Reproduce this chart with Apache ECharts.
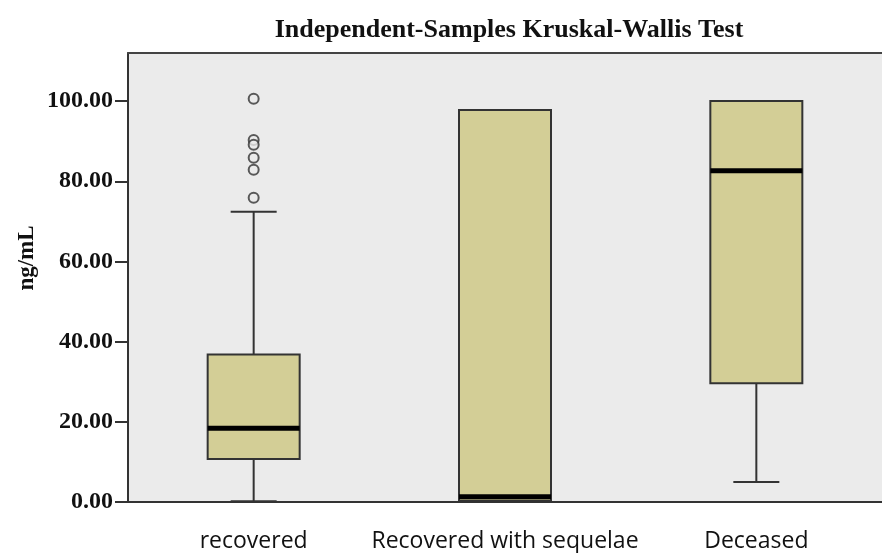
<!DOCTYPE html>
<html>
<head>
<meta charset="utf-8">
<script src="https://cdn.jsdelivr.net/npm/echarts@6/dist/echarts.min.js"></script>
<style>html,body{margin:0;padding:0;background:#fff}#c{width:882px;height:553px}</style>
</head>
<body>
<div id="c"></div>
<script>
const categories = ['recovered', 'Recovered with sequelae', 'Deceased'];
// [min, Q1, median, Q3, max]
const recoveredBox = [0.2, 10.7, 18.4, 36.8, 72.4];
const sequelaeBox = [0.3, 0.3, 1.3, 97.8, 97.8];
const deceasedBox = [5.0, 29.6, 82.6, 100.0, 100.0];
const recoveredOutliers = [100.6, 90.3, 89.1, 85.9, 82.9, 75.9];
const yTicks = [0, 20, 40, 60, 80, 100];

const boxes = [recoveredBox, sequelaeBox, deceasedBox];
const boxData = boxes.map((b, i) => [i].concat(b));
const outlierData = recoveredOutliers.map(v => [0, v]);

const chart = echarts.init(document.getElementById('c'));
const serif = '"Liberation Serif", "DejaVu Serif", serif';
const BOXW = 92, CAPW = 46;

function renderBox(params, api) {
  const idx = api.value(0);
  const pMin = api.coord([idx, api.value(1)]);
  const pQ1 = api.coord([idx, api.value(2)]);
  const pMed = api.coord([idx, api.value(3)]);
  const pQ3 = api.coord([idx, api.value(4)]);
  const pMax = api.coord([idx, api.value(5)]);
  const x = pQ1[0];
  const line = { stroke: '#333', lineWidth: 2 };
  return {
    type: 'group',
    children: [
      { type: 'line', shape: { x1: x, y1: pQ3[1], x2: x, y2: pMax[1] }, style: line },
      { type: 'line', shape: { x1: x, y1: pQ1[1], x2: x, y2: pMin[1] }, style: line },
      { type: 'line', shape: { x1: x - CAPW / 2, y1: pMax[1], x2: x + CAPW / 2, y2: pMax[1] }, style: line },
      { type: 'line', shape: { x1: x - CAPW / 2, y1: pMin[1], x2: x + CAPW / 2, y2: pMin[1] }, style: line },
      { type: 'rect', shape: { x: x - BOXW / 2, y: pQ3[1], width: BOXW, height: pQ1[1] - pQ3[1] },
        style: { fill: '#d3ce96', stroke: '#333', lineWidth: 2 } },
      { type: 'line', shape: { x1: x - BOXW / 2, y1: pMed[1], x2: x + BOXW / 2, y2: pMed[1] },
        style: { stroke: '#000', lineWidth: 5 } }
    ]
  };
}

chart.setOption({
  animation: false,
  backgroundColor: '#fff',
  title: {
    text: 'Independent-Samples Kruskal-Wallis Test',
    left: 504, top: 12, textAlign: 'center',
    textStyle: { fontFamily: serif, fontSize: 26, fontWeight: 'bold', color: '#111' }
  },
  grid: { left: 128, right: 0, top: 53, bottom: 50, show: true, backgroundColor: '#ebebeb', borderWidth: 0 },
  xAxis: [{
    type: 'category', data: categories,
    axisLine: { lineStyle: { color: '#333', width: 2 } },
    axisTick: { alignWithLabel: true, length: 14, lineStyle: { color: '#333', width: 2 } },
    axisLabel: { interval: 0, margin: 28, fontFamily: '"Open Sans", "Noto Sans", sans-serif', fontSize: 23, color: '#111' }
  }, {
    type: 'category', data: categories, position: 'top',
    axisLine: { lineStyle: { color: '#444', width: 2 } },
    axisTick: { show: false }, axisLabel: { show: false }
  }],
  yAxis: {
    type: 'value', min: 0, max: 112,
    splitLine: { show: false },
    axisLine: { show: true, lineStyle: { color: '#333', width: 2 } },
    axisTick: { show: true, length: 13, customValues: yTicks, lineStyle: { color: '#333', width: 2 } },
    axisLabel: { customValues: yTicks, margin: 15, fontFamily: serif, fontSize: 24, fontWeight: 'bold', color: '#111',
      formatter: v => v.toFixed(2) }
  },
  graphic: [{
    type: 'text', x: 27, y: 258, rotation: Math.PI / 2,
    style: { text: 'ng/mL', fontFamily: serif, fontSize: 23, fontWeight: 'bold', fill: '#111', align: 'center', verticalAlign: 'middle' }
  }],
  series: [{
    type: 'custom', renderItem: renderBox, data: boxData,
    encode: { x: 0, y: [1, 2, 3, 4, 5] }, z: 2
  }, {
    type: 'scatter', data: outlierData, symbol: 'circle', symbolSize: 10,
    itemStyle: { color: '#ebebeb', borderColor: '#333', borderWidth: 2 }, z: 3
  }]
});
</script>
</body>
</html>
